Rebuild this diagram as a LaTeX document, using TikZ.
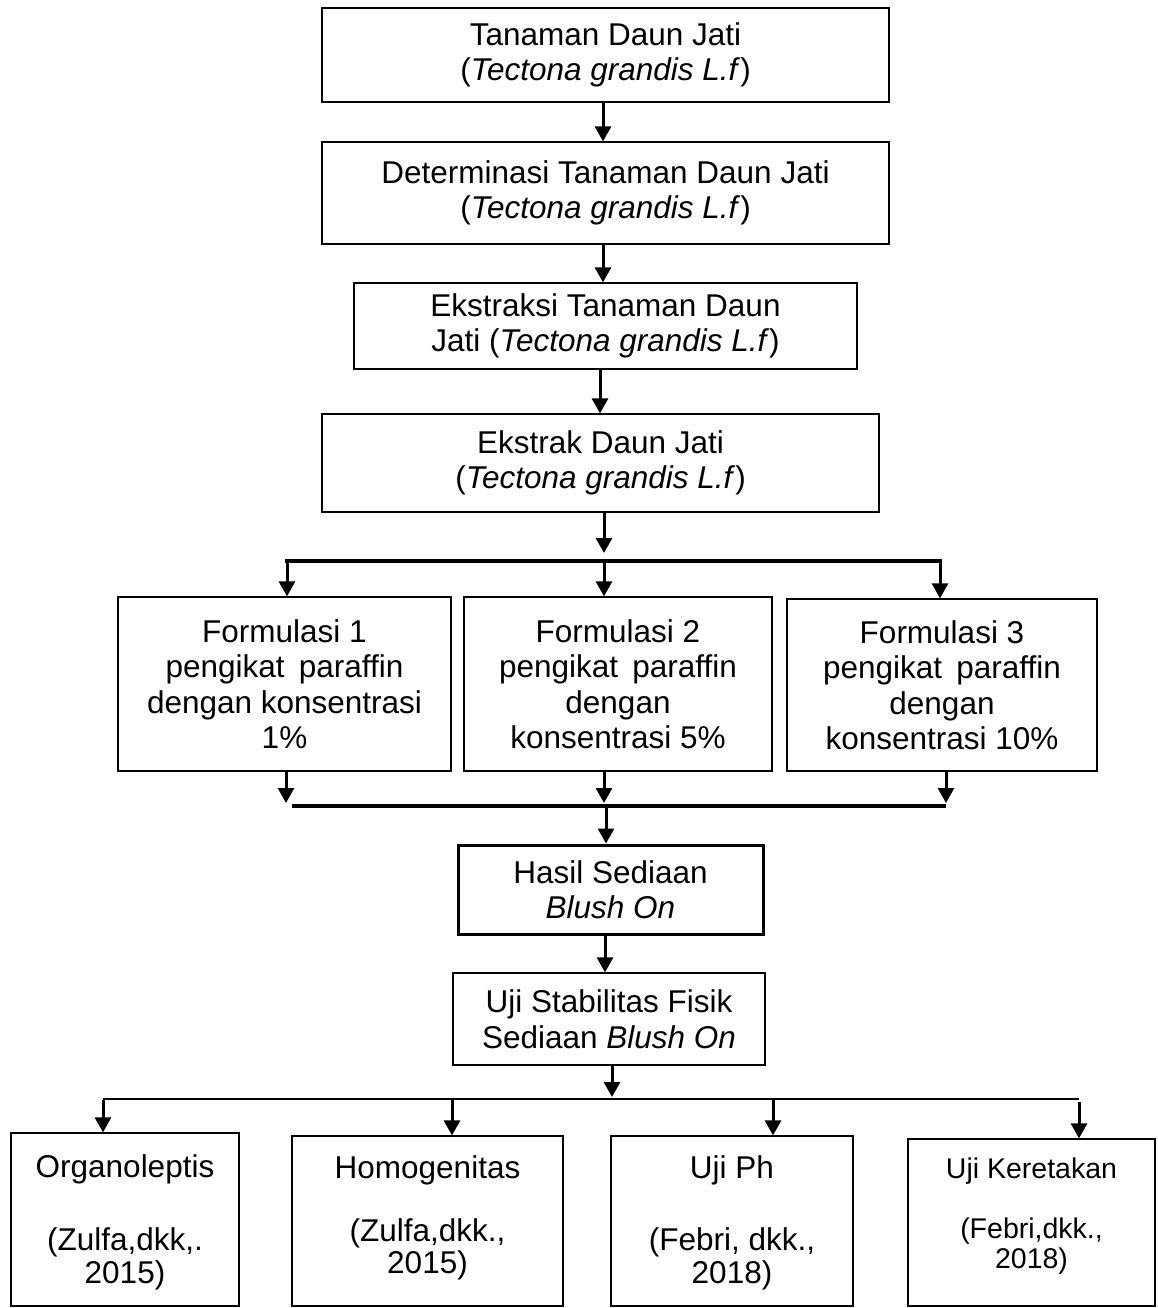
\documentclass[tikz,border=0pt]{standalone}
\usepackage{fontspec}
\setmainfont{Liberation Sans}
\usetikzlibrary{arrows.meta}
\newcommand\mainsz{\fontsize{31.5}{35.5}\selectfont}
\newcommand\smallsz{\fontsize{28.5}{32}\selectfont}
\begin{document}
\begin{tikzpicture}[x=1pt,y=-1pt,
  box/.style={draw, line width=1.3pt, inner sep=0pt, align=center, font=\mainsz},
  boldbox/.style={box, line width=3pt},
  arr/.style={line width=3pt, -{Triangle[width=16pt,length=15pt]}},
  joinline/.style={line width=4.5pt},
  thinline/.style={line width=1.3pt},
  lbl/.style={inner sep=0pt, anchor=base, font=\mainsz},
  slbl/.style={inner sep=0pt, anchor=base, font=\smallsz}]
\useasboundingbox (0,0) rectangle (1158,1308);

% main chain
\node[box, minimum width=567, minimum height=94] (b1) at (605.5,55)
  {Tanaman Daun Jati\\(\textit{Tectona grandis L.f})};
\node[box, minimum width=567, minimum height=102] (b2) at (605.5,193)
  {Determinasi Tanaman Daun Jati\\(\textit{Tectona grandis L.f})};
\node[box, minimum width=503, minimum height=86] (b3) at (605.5,326)
  {Ekstraksi Tanaman Daun\\Jati (\textit{Tectona grandis L.f})};
\node[box, minimum width=557, minimum height=98] (b4) at (600.5,463)
  {Ekstrak Daun Jati\\(\textit{Tectona grandis L.f})};

\coordinate (c603) at (603,0);
\coordinate (c600) at (600,0);
\draw[arr] (b1.south -| c603) -- (b2.north -| c603);
\draw[arr] (b2.south -| c603) -- (b3.north -| c603);
\draw[arr] (b3.south -| c600) -- (b4.north -| c600);

% formulations
\node[box, minimum width=333, minimum height=174] (f1) at (284.5,684)
  {Formulasi 1\\pengikat\hspace{0.45em}paraffin\\dengan konsentrasi\\1\%};
\node[box, minimum width=308, minimum height=174] (f2) at (618,684)
  {Formulasi 2\\pengikat\hspace{0.45em}paraffin\\dengan\\konsentrasi 5\%};
\node[box, minimum width=310, minimum height=172] (f3) at (942,685)
  {Formulasi 3\\pengikat\hspace{0.45em}paraffin\\dengan\\konsentrasi 10\%};

\coordinate (jt) at (604,553);
\coordinate (ja) at (287,561);
\coordinate (jb) at (604,561);
\coordinate (jc) at (940,561);
\draw[arr] (b4.south -| jt) -- (jt);
\draw[joinline] ([xshift=-2pt]ja) -- ([xshift=2pt]jc);
\draw[arr] (ja) -- (ja |- f1.north);
\draw[arr] (jb) -- (jb |- f2.north);
\draw[arr] (jc) -- (jc |- f3.north);

% merge
\coordinate (ka) at (286,803);
\coordinate (kb) at (604,803);
\coordinate (kc) at (946,803);
\coordinate (la) at (292,806);
\coordinate (lc) at (946,806);
\coordinate (lm) at (606,808);
\draw[arr] (f1.south -| ka) -- (ka);
\draw[arr] (f2.south -| kb) -- (kb);
\draw[arr] (f3.south -| kc) -- (kc);
\draw[joinline] (la) -- (lc);

\node[boldbox, minimum width=305, minimum height=89] (h) at (610.5,889.5)
  {Hasil Sediaan\\\textit{Blush On}};
\draw[arr] (lm) -- (lm |- h.north);

\node[box, minimum width=312, minimum height=92] (u) at (609,1019)
  {Uji Stabilitas Fisik\\Sediaan \textit{Blush On}};
\coordinate (c605) at (605,0);
\draw[arr] (h.south -| c605) -- (u.north -| c605);

% tests
\node[box, minimum width=228, minimum height=173] (t1) at (125,1219.5) {};
\node[box, minimum width=271, minimum height=170] (t2) at (427.5,1221) {};
\node[box, minimum width=242, minimum height=170] (t3) at (732,1221) {};
\node[box, minimum width=247, minimum height=167] (t4) at (1031.5,1222.5) {};

\coordinate (ut) at (612,1097);
\draw[arr] (u.south -| ut) -- (ut);
\coordinate (ma) at (103,1099);
\coordinate (mb) at (452,1099);
\coordinate (mc) at (773,1099);
\coordinate (md) at (1079,1099);
\coordinate (mdd) at (1079,1102);
\draw[thinline] (ma) -- (md);
\draw[arr] ([yshift=-1pt]ma) -- (ma |- t1.north);
\draw[arr] ([yshift=-1pt]mb) -- (mb |- t2.north);
\draw[arr] ([yshift=-1pt]mc) -- (mc |- t3.north);
\draw[arr] (mdd) -- (mdd |- t4.north);

\node[lbl] (t1a) at (125,1177) {Organoleptis};
\node[lbl] (t1b) at (125,1250) {(Zulfa,dkk,.};
\node[lbl] (t1c) at (125,1283) {2015)};
\node[lbl] (t2a) at (427.5,1178) {Homogenitas};
\node[lbl] (t2b) at (427.5,1241) {(Zulfa,dkk.,};
\node[lbl] (t2c) at (427.5,1273) {2015)};
\node[lbl] (t3a) at (732,1178) {Uji Ph};
\node[lbl] (t3b) at (732,1250) {(Febri, dkk.,};
\node[lbl] (t3c) at (732,1283) {2018)};
\node[slbl] (t4a) at (1031.5,1178) {Uji Keretakan};
\node[slbl] (t4b) at (1031.5,1238) {(Febri,dkk.,};
\node[slbl] (t4c) at (1031.5,1268) {2018)};
\end{tikzpicture}
\end{document}
